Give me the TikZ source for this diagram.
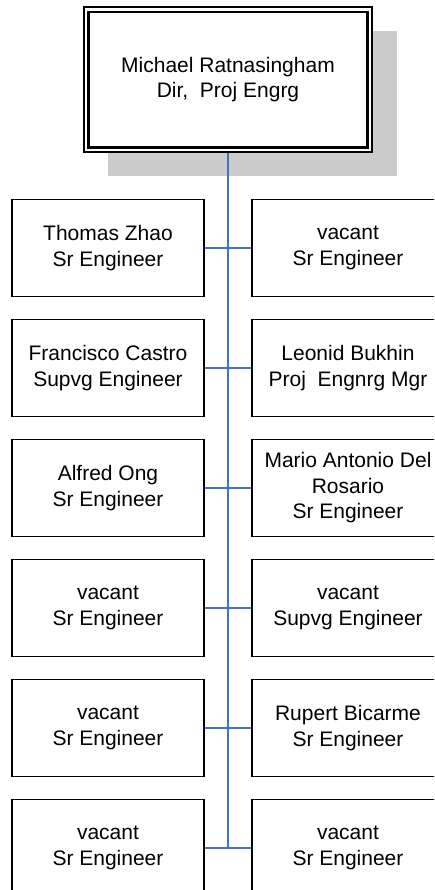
\documentclass[tikz,border=0pt]{standalone}
\usepackage{fontspec}
\setmainfont{Liberation Sans}
\begin{document}
\begin{tikzpicture}[x=1pt,y=-1pt,
  every node/.style={font=\fontsize{21}{25.5}\selectfont, align=center, inner sep=0pt},
  staffbox/.style={draw=black, line width=1.4pt, fill=white, minimum width=192pt, minimum height=97pt},
  topbox/.style={draw=black, line width=1.3pt, fill=white, minimum width=288pt, minimum height=145pt},
  vline/.style={draw={rgb,255:red,68;green,114;blue,196}, line width=2pt},
  hline/.style={draw={rgb,255:red,68;green,114;blue,196}, line width=1.7pt}]
\useasboundingbox (0,0) rectangle (434,890);
\clip (0,0) rectangle (434,890);
% shadow
\fill[gray!40] (108,31) rectangle (397,176);
% top box
\node[topbox] (top) at (228,79.5) {Michael Ratnasingham\\Dir,\ \ Proj Engrg};
\draw[line width=2.4pt] ([shift={(5pt,-5.5pt)}]top.north west) rectangle ([shift={(-5pt,5pt)}]top.south east);
% staff
\node[staffbox] (L1) at (108,248) {Thomas Zhao\\Sr Engineer};
\node[staffbox] (R1) at (348,248) {vacant\\Sr Engineer};
\node[staffbox] (L2) at (108,368) {Francisco Castro\\Supvg Engineer};
\node[staffbox] (R2) at (348,368) {Leonid Bukhin\\Proj\ \ Engnrg Mgr};
\node[staffbox] (L3) at (108,488) {Alfred Ong\\Sr Engineer};
\node[staffbox] (R3) at (348,488) {Mario Antonio Del\\Rosario\\Sr Engineer};
\node[staffbox] (L4) at (108,608) {vacant\\Sr Engineer};
\node[staffbox] (R4) at (348,608) {vacant\\Supvg Engineer};
\node[staffbox] (L5) at (108,728) {vacant\\Sr Engineer};
\node[staffbox] (R5) at (348,728) {Rupert Bicarme\\Sr Engineer};
\node[staffbox] (L6) at (108,848) {vacant\\Sr Engineer};
\node[staffbox] (R6) at (348,848) {vacant\\Sr Engineer};
% connectors
\coordinate (vend) at (228,848);
\foreach \i in {1,...,6} {\draw[hline] (L\i.east) -- (R\i.west);}
\draw[vline] (top.south) -- (vend);
\end{tikzpicture}
\end{document}
